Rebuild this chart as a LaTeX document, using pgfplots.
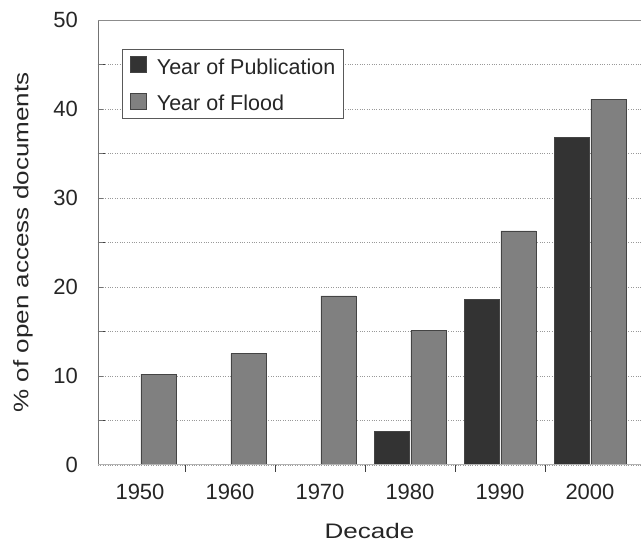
\documentclass[border=0pt]{standalone}
\usepackage{fontspec}
\setmainfont{Liberation Sans}
\newfontfamily\stretchfont[FakeStretch=1.24]{Liberation Sans}
\usepackage{pgfplots}
\pgfplotsset{compat=1.18}
\definecolor{pubc}{HTML}{333333}
\definecolor{floodc}{HTML}{808080}
\definecolor{edgec}{HTML}{444444}
\begin{document}
\begin{tikzpicture}
\begin{axis}[
  scale only axis,
  width=543pt, height=445pt,
  xmin=-0.4667, xmax=5.567,
  ymin=0, ymax=50,
  axis lines=left,
  axis line style={draw=none},
  xtick={0,1,2,3,4,5},
  xticklabels={1950,1960,1970,1980,1990,2000},
  minor xtick={0.5,1.5,2.5,3.5,4.5},
  ytick={0,10,20,30,40,50},
  minor ytick={5,15,25,35,45},
  tick align=inside,
  major tick length=0pt,
  minor tick length=7pt,
  minor tick style={draw=black!75, line width=0.8pt},
  ymajorgrids, yminorgrids,
  major grid style={draw=black!40, dotted, line width=0.7pt},
  minor grid style={draw=black!40, dotted, line width=0.7pt},
  /pgf/number format/assume math mode=true,
  tick label style={font=\fontsize{22}{26}\selectfont, inner sep=0pt, text=black!85},
  x tick label style={anchor=north, yshift=-19pt},
  y tick label style={anchor=east, xshift=-20pt},
  xlabel={Decade},
  ylabel={\% of open access documents},
  every axis x label/.style={at={([yshift=-66pt]rel axis cs:0.5,0)}, anchor=center,
    font=\stretchfont\fontsize{21}{25}\selectfont, text=black!85},
  every axis y label/.style={at={([xshift=-75pt]rel axis cs:0,0.5)}, anchor=center, rotate=90,
    font=\stretchfont\fontsize{21}{25}\selectfont, text=black!85},
  ybar,
  bar width=0.389,
  legend style={at={(0.0442,0.935)}, anchor=north west, draw=black!65, line width=0.6pt,
    fill=white, font=\fontsize{21.5}{25}\selectfont, text=black!85,
    row sep=18pt, inner xsep=8pt, inner ysep=7pt,
    nodes={inner sep=0pt, text height=16pt, text depth=0pt}},
  legend cell align=left,
  legend image code/.code={\fill[#1] (0pt,-6pt) rectangle (16pt,10pt); \path (26pt,0pt);},
]
\addplot[bar shift=-0.205, fill=pubc, draw=edgec, line width=0.6pt]
  coordinates {(3,3.8) (4,18.6) (5,36.8)};
\addlegendentry{Year of Publication\hspace{10pt}}
\addplot[bar shift=0.205, fill=floodc, draw=edgec, line width=0.6pt]
  coordinates {(0,10.2) (1,12.5) (2,19.0) (3,15.1) (4,26.3) (5,41.1)};
\addlegendentry{Year of Flood}
\draw[black!55, line width=0.8pt] (rel axis cs:0,0) -- (rel axis cs:0,1);
\draw[black!45, line width=0.8pt] (rel axis cs:0,1) -- (rel axis cs:1,1);
\draw[black!30, line width=2pt] (rel axis cs:0,0) -- (rel axis cs:1,0);
\foreach \yy in {0,5,10,15,20,25,30,35,40,45} {
  \edef\tmp{\noexpand\draw[black!55, line width=0.7pt] (axis cs:-0.4667,\yy) -- ++(5pt,0pt);}
  \tmp
}
\end{axis}
\pgfresetboundingbox
\path[use as bounding box] (-98pt,-78pt) rectangle (543pt,465pt);
\end{tikzpicture}
\end{document}
